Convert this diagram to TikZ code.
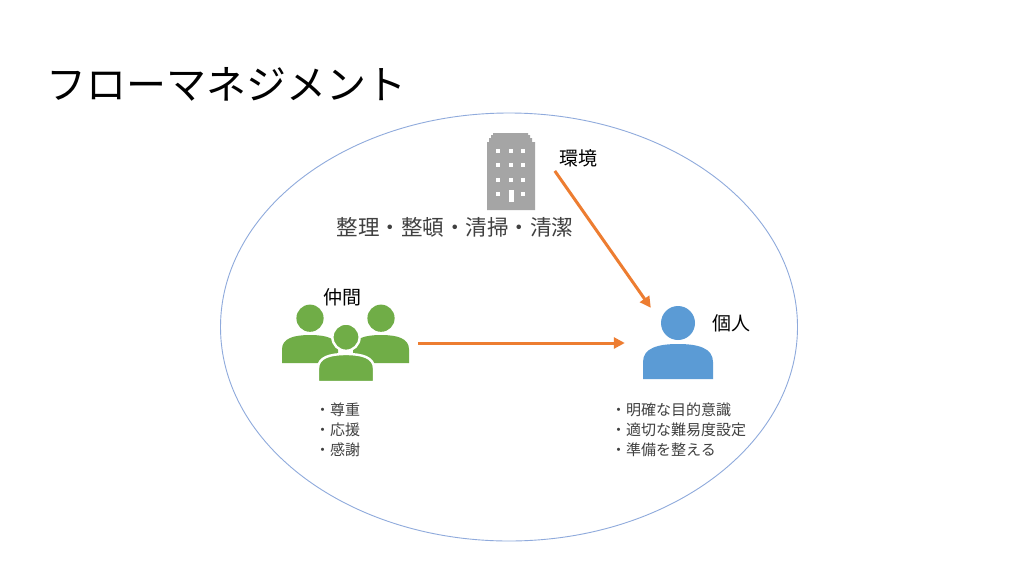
\documentclass[tikz,border=0pt]{standalone}
\usepackage{fontspec}
\setmainfont{Noto Sans CJK JP}
\usetikzlibrary{arrows.meta,positioning,shapes.geometric}
\definecolor{ringblue}{HTML}{8FAADC}
\definecolor{arrorange}{HTML}{ED7D31}
\definecolor{grpgreen}{HTML}{70AD47}
\definecolor{oneblue}{HTML}{5B9BD5}
\definecolor{bldgray}{HTML}{A5A5A5}
\definecolor{txtgray}{HTML}{404040}
\tikzset{
  flow/.style={draw=arrorange, line width=3pt, -{Triangle[length=11pt,width=11pt]}},
  tag/.style={font=\fontsize{19}{22}\selectfont, inner sep=0pt},
  points/.style={font=\fontsize{15}{20}\selectfont, align=left, inner sep=0pt, text=txtgray},
  iconbox/.style={inner sep=0pt, minimum width=#1},
  person/.pic={
    \fill (0,-56) circle (17);
    \fill (-35,0) -- (-35,-17) .. controls (-35,-31) and (-20,-35) .. (0,-35)
      .. controls (20,-35) and (35,-31) .. (35,-17) -- (35,0) -- cycle;
  },
  personline/.pic={
    \filldraw (0,-56) circle (17);
    \filldraw (-35,0) -- (-35,-17) .. controls (-35,-31) and (-20,-35) .. (0,-35)
      .. controls (20,-35) and (35,-31) .. (35,-17) -- (35,0) -- cycle;
  }
}
\begin{document}
\begin{tikzpicture}[x=1pt,y=-1pt]
  \useasboundingbox (0,0) rectangle (1024,576);
  \fill[white] (0,0) rectangle (1024,576);
  \node (title) [anchor=west, inner sep=0pt, font=\fontsize{40}{44}\selectfont] at (46,84) {フローマネジメント};
  \node (ring) [draw=ringblue, line width=0.9pt, ellipse, minimum width=577, minimum height=428, inner sep=0pt] at (509,327) {};
  % building
  \fill[bldgray] (487,210) -- (487,142) -- (489,142) -- (489,138) -- (491,138) -- (491,135) -- (493,135) -- (493,133)
    -- (528,133) -- (528,135) -- (530,135) -- (530,138) -- (532,138) -- (532,142) -- (535,142) -- (535,210) -- cycle;
  \foreach \wy in {151,165,180,194}
    \foreach \wx in {498,523}
      \fill[white] (\wx-2.3,\wy-2.3) rectangle (\wx+2.3,\wy+2.3);
  \foreach \wy in {151,165,180}
    \fill[white] (511-2.3,\wy-2.3) rectangle (511+2.3,\wy+2.3);
  \fill[white] (509,190) rectangle (513.5,202);
  \node (kankyo) [tag] at (578,158) {環境};
  \node (seiri) [inner sep=0pt, text=txtgray, font=\fontsize{21.5}{24}\selectfont] at (455,227) {整理・整頓・清掃・清潔};
  % group
  \pic[fill=grpgreen, scale=0.8] at (310,363) {person};
  \pic[fill=grpgreen, scale=0.8] at (381,363) {person};
  \pic[fill=grpgreen, draw=white, line width=2.4pt, scale=0.8] at (346,382) {personline};
  \node (nakama) [iconbox=126, minimum height=78] at (345,343) {};
  \node (nakamalbl) [tag] at (342,297) {仲間};
  \node (nakamapts) [points, anchor=north west] at (315,403) {・尊重\\・応援\\・感謝};
  % individual
  \pic[fill=oneblue] at (678,379) {person};
  \node (kojin) [iconbox=70, minimum height=73] at (678,342.5) {};
  \node (kojinlbl) [tag, anchor=west] at ([shift={(34,-19.5)}]kojin.center) {個人};
  \node (kojinpts) [points, anchor=north west] at (611,403) {・明確な目的意識\\・適切な難易度設定\\・準備を整える};
  \draw[flow, shorten <=10pt, shorten >=18pt] (nakama.east) -- (kojin.west |- nakama.east);
  \draw[flow] ([shift={(-4,4)}]kankyo.south west) -- ([shift={(8,2)}]kojin.north west);
\end{tikzpicture}
\end{document}
